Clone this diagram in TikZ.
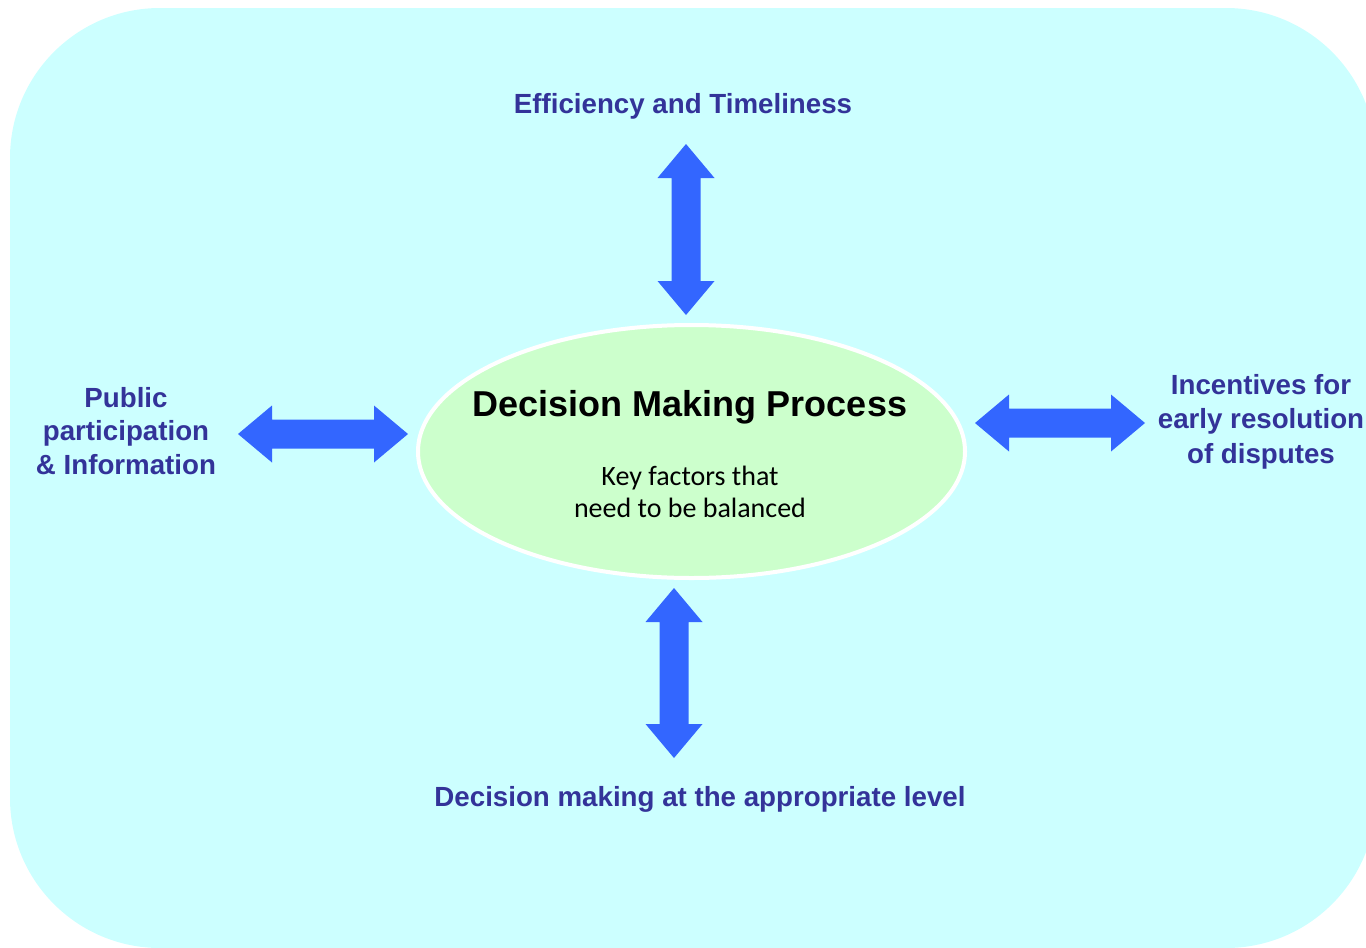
\documentclass[tikz,border=0pt]{standalone}
\usepackage{fontspec}
\setmainfont{Liberation Sans}
\newfontfamily\bodyfont{Carlito}
\usetikzlibrary{calc,shapes.geometric}

\definecolor{panelcyan}{HTML}{CCFFFF}
\definecolor{hubgreen}{HTML}{CCFFCC}
\definecolor{arrowblue}{HTML}{3366FF}
\definecolor{labelblue}{HTML}{333399}

\tikzset{
  factor/.style={font=\bfseries\fontsize{27.7}{33.5}\selectfont, text=labelblue,
                 align=center, inner sep=0pt, anchor=base},
  hub/.style={ellipse, fill=hubgreen, draw=white, line width=4pt,
              minimum width=547pt, minimum height=253pt, inner sep=0pt},
  arrowfill/.style={fill=arrowblue}
}

% block double arrow between two named coordinates
\newcommand\blockdblarrow[2]{%
  \fill[arrowfill] (#1)
    -- ($(#1)!34pt!(#2)!28.5pt!90:(#2)$)
    -- ($(#1)!34pt!(#2)!14.5pt!90:(#2)$)
    -- ($(#2)!34pt!(#1)!14.5pt!-90:(#1)$)
    -- ($(#2)!34pt!(#1)!28.5pt!-90:(#1)$)
    -- (#2)
    -- ($(#2)!34pt!(#1)!28.5pt!90:(#1)$)
    -- ($(#2)!34pt!(#1)!14.5pt!90:(#1)$)
    -- ($(#1)!34pt!(#2)!14.5pt!-90:(#2)$)
    -- ($(#1)!34pt!(#2)!28.5pt!-90:(#2)$)
    -- cycle;}

\begin{document}
\begin{tikzpicture}[x=1pt,y=-1pt]
  \useasboundingbox (0,0) rectangle (1366,948);
  \begin{scope}
    \clip (0,0) rectangle (1366,948);
    \fill[panelcyan, rounded corners=150pt] (10,8) rectangle (1376,948);
  \end{scope}

  % central process (multi-line nodes sit on their last baseline)
  \node[hub] (hub) at (691.5,451.5) {};
  \node[font=\bfseries\fontsize{36}{40}\selectfont, inner sep=0pt, anchor=base]
    (title) at (690,416) {Decision Making Process};
  \node[font=\bodyfont\fontsize{28}{32}\selectfont, align=center, inner sep=0pt, anchor=base]
    (sub) at (690,517) {Key factors that\\need to be balanced};

  % surrounding factors
  \node[factor] (top) at (683,113) {Efficiency and Timeliness};
  \node[factor] (left) at (126,474) {Public\\participation\\\& Information};
  \node[factor, font=\bfseries\fontsize{27.7}{34.5}\selectfont] (right) at (1261,463)
    {Incentives for\\early resolution\\of disputes};
  \node[factor] (bottom) at (700,806) {Decision making at the appropriate level};

  % arrow end points
  \coordinate (tA) at (686,144);  \coordinate (tB) at (686,315);
  \coordinate (bA) at (674,588);  \coordinate (bB) at (674,758);
  \coordinate (lA) at (238,434);  \coordinate (lB) at (408,434);
  \coordinate (rA) at (975,423);  \coordinate (rB) at (1145,423);

  \blockdblarrow{tA}{tB}
  \blockdblarrow{bA}{bB}
  \blockdblarrow{lA}{lB}
  \blockdblarrow{rA}{rB}
\end{tikzpicture}
\end{document}
